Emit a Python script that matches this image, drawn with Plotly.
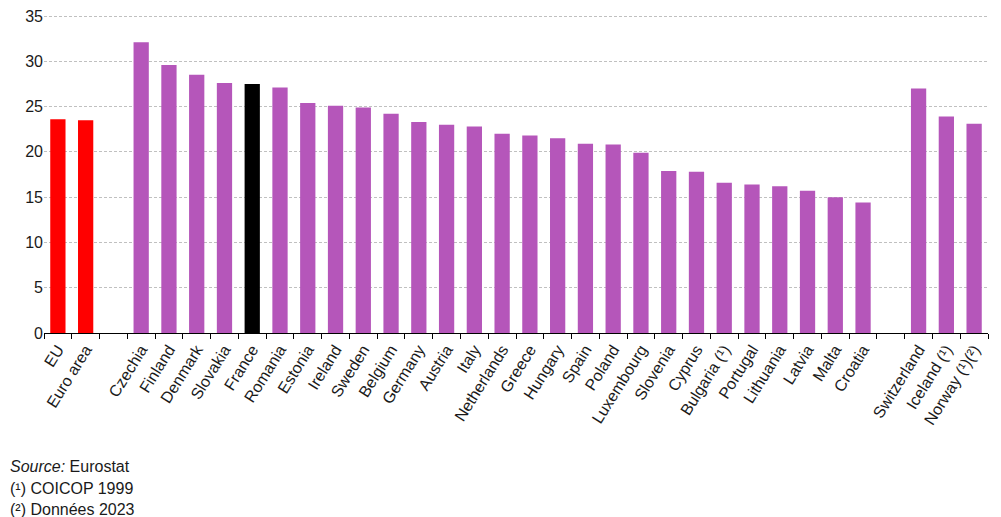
import plotly.graph_objects as go

categories = ["EU", "Euro area", " ",
              "Czechia", "Finland", "Denmark", "Slovakia", "France", "Romania", "Estonia",
              "Ireland", "Sweden", "Belgium", "Germany", "Austria", "Italy", "Netherlands",
              "Greece", "Hungary", "Spain", "Poland", "Luxembourg", "Slovenia", "Cyprus",
              "Bulgaria (¹)", "Portugal", "Lithuania", "Latvia", "Malta", "Croatia", "  ",
              "Switzerland", "Iceland (¹)", "Norway (¹)(²)"]
values = [23.6, 23.5, None,
          32.1, 29.6, 28.5, 27.6, 27.5, 27.1, 25.4,
          25.1, 24.9, 24.2, 23.3, 23.0, 22.8, 22.0,
          21.8, 21.5, 20.9, 20.8, 19.9, 17.9, 17.8,
          16.6, 16.4, 16.2, 15.7, 15.0, 14.4, None,
          27.0, 23.9, 23.1]
y_ticks = [0, 5, 10, 15, 20, 25, 30, 35]
notes = ["<i>Source:</i> Eurostat", "(¹) COICOP 1999", "(²) Données 2023"]

colors = []
for c in categories:
    if c in ("EU", "Euro area"):
        colors.append("#ff0000")
    elif c == "France":
        colors.append("#000000")
    else:
        colors.append("#b556ba")

fig = go.Figure(go.Bar(x=categories, y=values, marker=dict(color=colors, line=dict(width=0)),
                       hoverinfo="x+y"))

# page has an 8px body margin; figure is offset by (8, 8)
W, H = 993, 509
L, R, T, B = 36, 13, 5, 184
plot_h = H - T - B            # 320 px
px_per_unit = 317 / 35        # reference scale
y_top = plot_h / px_per_unit  # keeps 35 gridline slightly inside the plot area

fig.update_layout(
    width=W, height=H,
    margin=dict(l=L, r=R, t=T, b=B),
    paper_bgcolor="white", plot_bgcolor="white",
    bargap=0.45,
    showlegend=False,
    font=dict(family="Liberation Sans, Arial, sans-serif", size=16, color="#1a1a1a"),
)
fig.update_xaxes(
    type="category", tickson="boundaries", ticks="outside", ticklen=5, tickcolor="black",
    tickwidth=1, showline=True, linecolor="black", linewidth=1, tickangle=-58,
    tickfont=dict(size=16, color="#1a1a1a"), showgrid=False, automargin=False,
)
fig.update_yaxes(
    range=[0, y_top], tickmode="array", tickvals=y_ticks, ticklabeloverflow="allow",
    showgrid=True, gridcolor="#c0c0c0", griddash="3px,2px",
    gridwidth=1, zeroline=False, showline=False, ticks="", automargin=False,
    tickfont=dict(size=16, color="#1a1a1a"),
)

ys_px = [466 - 8, 488 - 8, 509 - 8]
for t, yp in zip(notes, ys_px):
    fig.add_annotation(text=t, xref="paper", yref="paper",
                       x=-L / (W - L - R), y=(H - B - yp) / plot_h,
                       xanchor="left", yanchor="middle", showarrow=False,
                       font=dict(size=16, color="#1a1a1a"))

fig.write_html("out.html")
